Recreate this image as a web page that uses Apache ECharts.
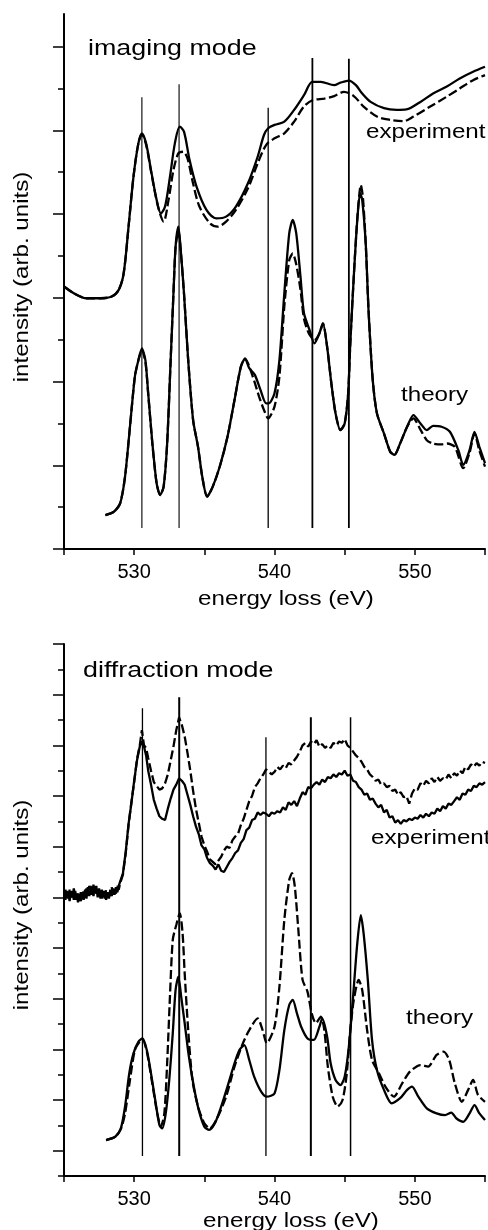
<!DOCTYPE html>
<html>
<head>
<meta charset="utf-8">
<title>O K-edge ELNES: imaging and diffraction mode</title>
<script src="https://cdn.jsdelivr.net/npm/echarts@6/dist/echarts.min.js"></script>
<style>
  html, body { margin: 0; padding: 0; background: #fff; }
  #chart { width: 488px; height: 1230px; }
</style>
</head>
<body>
<div id="chart"></div>
<script>
// x axis: energy loss (eV), labelled ticks
const energyLabels = [530, 540, 550];

// ---- imaging mode: [energy loss (eV), intensity (arb. units)] ----
const imgExpSolid = [
  [525.0,6.27],[525.7,6.11],[526.6,5.99],[527.6,5.99],[528.4,6.03],[528.9,6.19],[529.25,6.58],[529.6,7.7],
  [529.95,8.89],[530.3,9.69],[530.55,9.93],[530.85,9.69],[531.2,9.05],[531.6,8.34],[531.9,8.02],[532.2,8.18],
  [532.55,8.89],[532.9,9.69],[533.25,10.09],[533.55,9.97],[533.95,9.29],[534.45,8.65],[535.15,8.1],[535.85,7.9],
  [536.55,7.94],[537.25,8.18],[538.1,8.73],[538.8,9.37],[539.25,9.89],[539.55,10.05],[540.0,10.13],[540.7,10.21],
  [541.4,10.49],[542.1,10.84],[542.7,11.16],[543.3,11.16],[544.25,11.08],[544.7,11.14],[545.3,11.19],[545.8,11.08],
  [546.25,10.88],[546.85,10.68],[547.8,10.53],[548.7,10.49],[549.4,10.5],[550.4,10.68],[551.3,10.88],[552.25,11.04],
  [553.2,11.24],[554.15,11.4],[555.0,11.52]
];
const imgExpDashed = [
  [525.0,6.27],[525.7,6.11],[526.6,5.99],[527.6,5.99],[528.4,6.03],[528.9,6.19],[529.25,6.58],[529.6,7.7],
  [529.95,8.89],[530.3,9.69],[530.55,9.9],[530.85,9.66],[531.2,9.02],[531.7,8.18],[532.1,7.82],[532.45,8.34],
  [532.8,9.05],[533.15,9.45],[533.5,9.49],[533.8,9.33],[534.2,8.73],[534.65,8.18],[535.4,7.78],[535.95,7.7],
  [536.55,7.82],[537.25,8.1],[538.1,8.61],[538.8,9.21],[539.4,9.65],[540.0,9.81],[540.7,9.93],[541.4,10.21],
  [542.1,10.57],[542.7,10.72],[543.55,10.76],[544.25,10.82],[544.95,10.92],[545.65,10.82],[546.35,10.57],[547.3,10.33],
  [548.25,10.25],[549.2,10.22],[549.9,10.33],[551.1,10.57],[552.25,10.8],[553.2,11.0],[554.15,11.2],[555.0,11.32]
];
const imgTheorySolid = [
  [527.95,0.81],[528.55,0.89],[529.0,1.09],[529.35,1.73],[529.7,2.92],[530.05,4.12],[530.3,4.51],[530.55,4.79],
  [530.8,4.51],[531.0,3.72],[531.3,2.52],[531.6,1.57],[531.85,1.29],[532.1,1.49],[532.35,2.52],[532.6,4.51],
  [532.8,6.11],[532.95,7.22],[533.15,7.7],[533.3,7.22],[533.55,6.11],[533.85,4.51],[534.2,3.08],[534.55,2.44],
  [534.85,1.73],[535.2,1.25],[535.6,1.49],[536.1,1.97],[536.65,2.68],[537.15,3.56],[537.6,4.35],[537.9,4.55],
  [538.2,4.32],[538.6,4.16],[539.0,3.8],[539.4,3.48],[539.6,3.48],[540.0,3.72],[540.35,4.51],[540.7,6.11],
  [541.05,7.54],[541.3,7.86],[541.55,7.54],[541.85,6.51],[542.1,5.63],[542.5,5.23],[542.85,4.91],[543.2,5.15],
  [543.45,5.39],[543.75,4.83],[544.05,3.96],[544.35,3.24],[544.7,2.84],[545.0,3.0],[545.25,3.72],[545.4,4.91],
  [545.65,6.51],[545.9,7.86],[546.1,8.5],[546.25,8.34],[546.5,7.3],[546.7,5.71],[547.0,4.04],[547.3,3.24],
  [547.8,2.76],[548.25,2.32],[548.55,2.25],[548.95,2.52],[549.45,2.92],[549.9,3.2],[550.4,3.0],[550.85,2.84],
  [551.3,2.94],[551.9,2.92],[552.5,2.8],[553.1,2.36],[553.45,2.01],[553.9,2.36],[554.25,2.8],[554.6,2.44],[555.0,2.05]
];
const imgTheoryDashed = [
  [527.95,0.81],[528.55,0.89],[529.0,1.09],[529.35,1.73],[529.7,2.92],[530.05,4.12],[530.3,4.51],[530.55,4.75],
  [530.8,4.47],[531.0,3.7],[531.3,2.5],[531.6,1.57],[531.85,1.29],[532.1,1.49],[532.35,2.52],[532.6,4.51],
  [532.8,6.11],[532.95,7.2],[533.15,7.62],[533.3,7.2],[533.55,6.11],[533.85,4.51],[534.2,3.08],[534.55,2.44],
  [534.85,1.73],[535.2,1.25],[535.6,1.49],[536.1,1.97],[536.65,2.68],[537.15,3.56],[537.6,4.35],[537.9,4.55],
  [538.45,4.12],[538.9,3.64],[539.25,3.32],[539.55,3.12],[540.0,3.4],[540.35,4.12],[540.7,5.8],[541.05,6.9],
  [541.3,7.06],[541.55,6.8],[541.85,6.2],[542.1,5.5],[542.45,5.15],[542.85,4.99],[543.2,5.15],[543.45,5.39],
  [543.75,4.83],[544.05,3.96],[544.35,3.24],[544.7,2.84],[545.0,3.0],[545.25,3.72],[545.4,4.91],[545.65,6.51],
  [545.9,7.9],[546.15,8.69],[546.3,8.4],[546.5,7.3],[546.7,5.71],[547.0,4.04],[547.3,3.24],[547.8,2.76],
  [548.25,2.32],[548.55,2.25],[548.95,2.52],[549.45,2.92],[549.9,3.12],[550.4,2.85],[550.85,2.6],[551.3,2.52],
  [551.9,2.5],[552.3,2.52],[552.85,2.44],[553.45,1.93],[553.9,2.3],[554.25,2.76],[554.6,2.35],[555.0,1.97]
];
// reference energies (eV) and the tops of their vertical markers
const imgMarkerEnergy = [530.55, 533.2, 539.55, 542.7, 545.3];
const imgMarkerTop = [10.79, 11.1, 10.54, 11.73, 11.71];
const imgMarkerBottom = 0.5;

// ---- diffraction mode ----
const difExpSolid = [
  [525.0,11.05],[525.1,11.3],[525.2,10.95],[525.3,11.2],[525.4,10.85],[525.5,11.25],[525.6,11.0],[525.7,11.35],
  [525.8,10.9],[525.9,11.15],[526.0,10.8],[526.1,11.1],[526.2,10.85],[526.3,11.2],[526.4,10.9],[526.5,11.3],
  [526.6,10.95],[526.7,11.4],[526.8,11.05],[526.9,11.45],[527.0,11.1],[527.1,11.5],[527.2,11.15],[527.3,11.45],
  [527.4,11.0],[527.5,11.35],[527.6,10.95],[527.7,11.3],[527.8,11.0],[527.9,11.25],[528.0,10.9],[528.1,11.2],
  [528.2,10.95],[528.3,11.3],[528.4,11.05],[528.5,11.35],[528.6,11.1],[528.7,11.4],[528.8,11.2],[528.9,11.45],
  [529.0,11.5],[529.2,11.95],[529.4,12.8],[529.6,13.9],
  [529.8,14.7],[530.0,15.6],[530.2,16.4],[530.4,16.95],[530.55,17.15],[530.7,16.95],[530.85,16.6],[531.0,16.0],
  [531.2,15.45],[531.4,14.85],[531.6,14.5],[531.8,14.2],[532.0,14.1],[532.2,14.05],[532.4,14.5],[532.6,14.9],
  [532.8,15.25],[533.0,15.45],[533.2,15.7],[533.4,15.6],[533.6,15.45],[533.8,15.05],[534.0,14.65],[534.2,14.2],
  [534.4,13.8],[534.6,13.5],[534.8,13.05],[535.0,12.9],[535.2,12.55],[535.4,12.35],[535.6,12.25],[535.8,12.1],
  [536.0,12.3],[536.2,12.05],[536.4,12.0],[536.6,12.2],[536.8,12.4],[537.0,12.55],[537.2,12.75],[537.4,12.85],
  [537.6,13.15],[537.8,13.3],[538.0,13.65],[538.2,13.75],[538.4,14.05],[538.6,14.1],[538.8,14.35],[539.0,14.25],
  [539.2,14.35],[539.4,14.3],[539.6,14.2],[539.8,14.35],[540.0,14.3],[540.2,14.4],[540.4,14.35],[540.6,14.55],
  [540.8,14.45],[541.0,14.75],[541.2,14.65],[541.4,14.8],[541.6,14.6],[541.8,14.9],[542.0,15.15],[542.2,15.05],
  [542.4,15.35],[542.6,15.3],[542.8,15.45],[543.0,15.55],[543.2,15.45],[543.4,15.65],[543.6,15.55],[543.8,15.75],
  [544.0,15.7],[544.2,15.85],[544.4,15.75],[544.6,15.9],[544.8,15.85],[545.0,16.0],[545.2,15.8],[545.4,15.85],
  [545.6,15.6],[545.8,15.55],[546.0,15.35],[546.2,15.25],[546.4,15.05],[546.6,15.1],[546.8,14.85],[547.0,14.9],
  [547.2,14.7],[547.4,14.55],[547.6,14.65],[547.8,14.35],[548.0,14.45],[548.2,14.15],[548.4,14.2],[548.6,13.95],
  [548.8,14.05],[549.0,13.9],[549.2,14.05],[549.4,14.0],[549.6,14.1],[549.8,14.05],[550.0,14.15],[550.2,14.1],
  [550.4,14.25],[550.6,14.15],[550.8,14.3],[551.0,14.2],[551.2,14.35],[551.4,14.3],[551.6,14.5],[551.8,14.4],
  [552.0,14.6],[552.2,14.5],[552.4,14.7],[552.6,14.65],[552.8,14.8],[553.0,14.95],[553.2,14.85],[553.4,15.1],
  [553.6,15.05],[553.8,15.25],[554.0,15.2],[554.2,15.4],[554.4,15.35],[554.6,15.5],[554.8,15.45],[555.0,15.55]
];
const difExpDashed = [
  [525.0,11.2],[525.1,10.9],[525.2,11.25],[525.3,10.95],[525.4,11.3],[525.5,11.0],[525.6,11.2],[525.7,10.9],
  [525.8,11.25],[525.9,10.85],[526.0,11.15],[526.1,10.9],[526.2,11.2],[526.3,10.95],[526.4,11.3],[526.5,11.0],
  [526.6,11.35],[526.7,11.05],[526.8,11.45],[526.9,11.1],[527.0,11.35],[527.1,11.05],[527.2,11.4],[527.3,11.1],
  [527.4,11.3],[527.5,11.0],[527.6,11.25],[527.7,10.95],[527.8,11.2],[527.9,10.95],[528.0,11.3],[528.1,11.0],
  [528.2,11.25],[528.3,11.05],[528.4,11.4],[528.5,11.1],[528.6,11.3],[528.7,11.15],[528.8,11.45],[528.9,11.3],
  [529.0,11.55],[529.2,11.9],[529.4,12.75],[529.6,13.85],
  [529.8,14.75],[530.0,15.55],[530.2,16.45],[530.4,17.0],[530.55,17.6],[530.7,17.0],[530.85,16.9],[531.0,16.5],
  [531.2,16.0],[531.4,15.55],[531.6,15.4],[531.8,15.25],[532.0,15.3],[532.2,15.5],[532.4,15.85],[532.6,16.4],
  [532.8,16.95],[533.0,17.6],[533.2,18.1],[533.4,17.8],[533.6,17.35],[533.8,16.7],[534.0,16.0],[534.2,15.2],
  [534.4,14.5],[534.6,13.95],[534.8,13.4],[535.0,13.05],[535.2,12.8],[535.4,12.5],[535.6,12.4],[535.8,12.3],
  [536.0,12.45],[536.2,12.6],[536.4,12.85],[536.6,13.0],[536.8,12.95],[537.0,13.25],[537.2,13.4],[537.4,13.5],
  [537.6,13.85],[537.8,14.1],[538.0,14.45],[538.2,14.8],[538.4,15.0],[538.6,15.35],[538.8,15.5],[539.0,15.7],
  [539.2,15.85],[539.4,16.05],[539.6,15.95],[539.8,15.85],[540.0,15.95],[540.2,16.15],[540.4,16.05],[540.6,16.2],
  [540.8,16.1],[541.0,16.3],[541.2,16.25],[541.4,16.4],[541.6,16.55],[541.8,16.75],[542.0,17.0],[542.2,17.1],
  [542.4,16.95],[542.6,17.15],[542.8,17.05],[543.0,17.2],[543.2,16.95],[543.4,17.05],[543.6,16.9],[543.8,17.0],
  [544.0,16.9],[544.2,17.1],[544.4,17.0],[544.6,17.15],[544.8,17.1],[545.0,17.25],[545.2,17.0],[545.4,16.9],
  [545.6,16.75],[545.8,16.6],[546.0,16.5],[546.2,16.35],[546.4,16.15],[546.6,16.05],[546.8,15.85],[547.0,15.75],
  [547.2,15.6],[547.4,15.65],[547.6,15.45],[547.8,15.5],[548.0,15.35],[548.2,15.4],[548.4,15.2],[548.6,15.25],
  [548.8,15.05],[549.0,15.15],[549.2,14.95],[549.4,15.0],[549.6,14.7],[549.8,15.1],[550.0,15.3],[550.2,15.25],
  [550.4,15.5],[550.6,15.4],[550.8,15.6],[551.0,15.5],[551.2,15.7],[551.4,15.55],[551.6,15.75],[551.8,15.6],
  [552.0,15.7],[552.2,15.65],[552.4,15.85],[552.6,15.7],[552.8,15.9],[553.0,15.8],[553.2,16.0],[553.4,15.9],
  [553.6,16.15],[553.8,16.05],[554.0,16.25],[554.2,16.15],[554.4,16.3],[554.6,16.2],[554.8,16.35],[555.0,16.3]
];
const difTheorySolid = [
  [528.0,1.42],[528.65,1.55],[529.05,1.88],[529.35,2.74],[529.65,4.05],[529.95,4.84],[530.3,5.3],[530.6,5.43],
  [530.9,4.97],[531.2,4.05],[531.5,3.0],[531.8,2.01],[532.0,1.88],[532.25,2.47],[532.5,3.79],[532.75,5.63],
  [532.95,7.34],[533.15,7.87],[533.35,7.08],[533.6,6.03],[533.9,4.71],[534.25,3.53],[534.6,2.61],[535.0,1.95],
  [535.35,1.82],[535.75,2.08],[536.2,2.74],[536.65,3.53],[537.15,4.45],[537.5,4.97],[537.85,5.17],[538.2,4.58],
  [538.55,3.92],[539.05,3.33],[539.45,3.13],[540.0,3.26],[540.35,4.18],[540.7,5.76],[541.05,6.75],[541.3,6.95],
  [541.6,6.42],[541.9,5.89],[542.35,5.43],[542.8,5.37],[543.2,5.89],[543.4,6.22],[543.75,5.5],[544.0,4.45],
  [544.35,3.79],[544.7,3.59],[545.0,3.92],[545.3,5.11],[545.6,7.08],[545.9,9.19],[546.15,10.3],[546.35,9.58],
  [546.65,7.74],[546.95,5.37],[547.3,4.18],[547.8,3.4],[548.35,2.87],[548.95,3.07],[549.45,3.4],[549.8,3.53],
  [550.25,3.13],[550.85,2.67],[551.55,2.47],[552.15,2.4],[552.6,2.5],[552.95,2.28],[553.45,2.14],[553.9,2.47],
  [554.25,2.8],[554.6,2.47],[555.0,2.21]
];
const difTheoryDashed = [
  [528.0,1.42],[528.65,1.55],[529.05,1.85],[529.35,2.47],[529.7,3.79],[530.05,4.97],[530.4,5.3],[530.6,5.37],
  [530.9,4.91],[531.25,3.79],[531.6,2.61],[531.9,1.95],[532.15,2.47],[532.35,4.45],[532.55,7.08],[532.75,9.32],
  [533.0,9.91],[533.25,10.37],[533.45,9.58],[533.6,8.0],[533.85,5.76],[534.15,3.79],[534.55,2.74],[535.0,2.08],
  [535.4,1.88],[535.85,2.21],[536.55,3.13],[537.15,4.32],[537.75,5.24],[538.2,5.76],[538.8,6.22],[539.15,5.76],
  [539.45,5.24],[540.0,5.89],[540.35,7.47],[540.7,10.11],[541.05,11.69],[541.25,11.95],[541.45,11.42],[541.7,9.71],
  [542.0,7.74],[542.35,7.28],[542.65,6.42],[542.95,6.03],[543.3,6.29],[543.55,5.76],[543.8,4.32],[544.15,3.13],
  [544.5,2.74],[544.85,3.0],[545.15,4.05],[545.4,5.76],[545.65,6.95],[546.0,7.74],[546.25,7.34],[546.6,5.76],
  [546.95,4.58],[547.45,4.05],[547.9,3.53],[548.5,3.13],[549.1,3.66],[549.65,4.12],[550.4,4.38],[550.95,4.32],
  [551.55,4.78],[552.05,4.91],[552.45,4.58],[552.85,3.66],[553.35,2.93],[553.8,3.4],[554.15,3.79],[554.5,3.2],[555.0,2.93]
];
const difMarkerEnergy = [530.59, 533.21, 539.39, 542.59, 545.42];
const difMarkerTop = [18.46, 18.9, 17.32, 18.11, 18.11];
const difMarkerBottom = 0.79;

// ---- styling ----
const FONT = '"Liberation Sans", Arial, Helvetica, sans-serif';
const INK = '#000';
const DASH = [9, 3.5];
const imgMarkerWidths = [1.1, 1.1, 1.3, 1.8, 1.8];
const difMarkerWidths = [1.3, 2.0, 1.3, 2.0, 1.5];

const chart = echarts.init(document.getElementById('chart'), null, { renderer: 'canvas' });

function xAxisFor(gridIndex) {
  return {
    type: 'value', gridIndex, min: 525, max: 555, interval: 5,
    axisLine: { lineStyle: { color: INK, width: 2 } },
    axisTick: { length: 6, lineStyle: { color: INK, width: 1.5 } },
    axisLabel: {
      color: INK, fontFamily: FONT, fontSize: 20, margin: 13,
      formatter: (v) => energyLabels.includes(v) ? String(v) : ''
    },
    splitLine: { show: false }
  };
}

// two overlaid y axes per panel: short (minor) and long (major) ticks
function yAxesFor(gridIndex, max, minorTicks, majorTicks) {
  const base = {
    type: 'value', gridIndex, min: 0, max, position: 'left',
    axisLabel: { show: false }, splitLine: { show: false }
  };
  return [
    Object.assign({}, base, {
      axisLine: { show: true, lineStyle: { color: INK, width: 2 } },
      axisTick: { show: true, length: 6, customValues: minorTicks, lineStyle: { color: INK, width: 1.5 } }
    }),
    Object.assign({}, base, {
      axisLine: { show: false },
      axisTick: { show: true, length: 11, customValues: majorTicks, lineStyle: { color: INK, width: 1.5 } }
    })
  ];
}

function curve(data, gridIndex, dashed, smooth) {
  return {
    type: 'line', xAxisIndex: gridIndex, yAxisIndex: gridIndex * 2, data,
    symbol: 'none', smooth, silent: true, z: 3,
    lineStyle: { color: INK, width: 2.3, type: dashed ? DASH : 'solid' }
  };
}

function markers(energies, tops, bottom, widths, gridIndex) {
  return energies.map((e, i) => ({
    type: 'line', xAxisIndex: gridIndex, yAxisIndex: gridIndex * 2,
    data: [[e, bottom], [e, tops[i]]],
    symbol: 'none', silent: true, z: 2,
    lineStyle: { color: INK, width: widths[i] }
  }));
}

function label(text, x, y, size, opts) {
  return Object.assign({
    type: 'text', x, y, silent: true, scaleX: 1.15,
    style: { text, font: `${size}px ${FONT}`, fill: INK, align: 'left', verticalAlign: 'middle' }
  }, opts || {});
}

function centred(text, x, y, rotation) {
  return label(text, x, y, 21, {
    rotation: rotation || 0,
    style: { text, font: `21px ${FONT}`, fill: INK, align: 'center', verticalAlign: 'middle' }
  });
}

const range = (a, b, step) => { const r = []; for (let v = a; v <= b; v += step) r.push(v); return r; };

chart.setOption({
  animation: false,
  backgroundColor: '#fff',
  grid: [
    { left: 64, right: 0, top: 14, height: 535 },
    { left: 64, right: 0, top: 644, height: 532 }
  ],
  xAxis: [xAxisFor(0), xAxisFor(1)],
  yAxis: [
    ...yAxesFor(0, 12.78, range(1, 11, 2), range(0, 12, 2)),
    ...yAxesFor(1, 21, range(0, 20, 2), range(1, 21, 2))
  ],
  series: [
    ...markers(imgMarkerEnergy, imgMarkerTop, imgMarkerBottom, imgMarkerWidths, 0),
    curve(imgExpSolid, 0, false, 0.3),
    curve(imgExpDashed, 0, true, 0.3),
    curve(imgTheorySolid, 0, false, 0.25),
    curve(imgTheoryDashed, 0, true, 0.25),
    ...markers(difMarkerEnergy, difMarkerTop, difMarkerBottom, difMarkerWidths, 1),
    curve(difExpSolid, 1, false, false),
    curve(difExpDashed, 1, true, false),
    curve(difTheorySolid, 1, false, 0.25),
    curve(difTheoryDashed, 1, true, 0.25)
  ],
  graphic: [
    label('imaging mode', 88, 49, 22, { scaleX: 1.22 }),
    label('experiment', 366, 132, 21),
    label('theory', 401, 395, 21),
    centred('energy loss (eV)', 286, 599),
    centred('intensity (arb. units)', 22, 277, Math.PI / 2),
    label('diffraction mode', 83, 671, 22, { scaleX: 1.22 }),
    label('experiment', 371, 838, 21),
    label('theory', 406, 1018, 21),
    centred('energy loss (eV)', 291, 1221),
    centred('intensity (arb. units)', 22, 905, Math.PI / 2)
  ]
});
</script>
</body>
</html>
